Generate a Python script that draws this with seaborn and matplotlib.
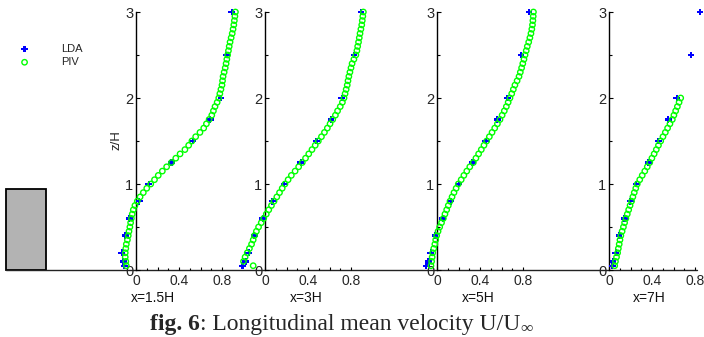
import numpy as np
import pandas as pd
import matplotlib
matplotlib.use("Agg")
import matplotlib.pyplot as plt
import matplotlib.transforms as mtransforms
from matplotlib.patches import Rectangle
import seaborn as sns

# ---------------- data ----------------
stations = [1.5, 3.0, 5.0, 7.0]
station_labels = ["x=1.5H", "x=3H", "x=5H", "x=7H"]

lda_z = [0.05, 0.1, 0.2, 0.4, 0.6, 0.8, 1.0, 1.25, 1.5, 1.75, 2.0, 2.5, 3.0]
lda_u_15 = [-0.11, -0.12, -0.133, -0.10, -0.062, 0.03, 0.12, 0.33, 0.53, 0.69, 0.79, 0.84, 0.89]
lda_u_3 = [-0.21, -0.18, -0.15, -0.10, -0.022, 0.071, 0.18, 0.332, 0.48, 0.614, 0.713, 0.828, 0.893]
lda_u_5 = [-0.10, -0.08, -0.059, -0.019, 0.053, 0.130, 0.205, 0.329, 0.453, 0.561, 0.654, 0.781, 0.856]
lda_u_7 = [0.031, 0.037, 0.062, 0.093, 0.145, 0.198, 0.254, 0.366, 0.459, 0.552, 0.63, 0.763, 0.846]

piv_z = [0.05, 0.10, 0.15, 0.20, 0.25, 0.30, 0.35, 0.40, 0.45, 0.50,
         0.55, 0.60, 0.65, 0.70, 0.75, 0.80, 0.85, 0.90, 0.95, 1.00,
         1.05, 1.10, 1.15, 1.20, 1.25, 1.30, 1.35, 1.40, 1.45, 1.50,
         1.55, 1.60, 1.65, 1.70, 1.75, 1.80, 1.85, 1.90, 1.95, 2.00,
         2.05, 2.10, 2.15, 2.20, 2.25, 2.30, 2.35, 2.40, 2.45, 2.50,
         2.55, 2.60, 2.65, 2.70, 2.75, 2.80, 2.85, 2.90, 2.95, 3.00]
piv_u_15 = [-0.09, -0.095, -0.10, -0.10, -0.095, -0.09, -0.08, -0.072, -0.065, -0.057,
            -0.05, -0.043, -0.035, -0.025, -0.01, 0.012, 0.038, 0.068, 0.10, 0.137,
            0.172, 0.207, 0.245, 0.285, 0.33, 0.37, 0.41, 0.455, 0.49, 0.52,
            0.555, 0.595, 0.63, 0.655, 0.68, 0.705, 0.72, 0.735, 0.755, 0.77,
            0.78, 0.79, 0.80, 0.805, 0.81, 0.82, 0.83, 0.838, 0.845, 0.852,
            0.86, 0.867, 0.875, 0.885, 0.895, 0.903, 0.91, 0.915, 0.92, 0.925]
piv_u_3 = [-0.11, -0.20, -0.185, -0.165, -0.145, -0.125, -0.11, -0.098, -0.08, -0.06,
           -0.035, -0.012, 0.012, 0.035, 0.06, 0.084, 0.11, 0.135, 0.16, 0.186,
           0.215, 0.245, 0.28, 0.313, 0.347, 0.377, 0.407, 0.437, 0.467, 0.496,
           0.525, 0.553, 0.58, 0.605, 0.63, 0.655, 0.675, 0.70, 0.72, 0.735,
           0.745, 0.755, 0.765, 0.772, 0.78, 0.79, 0.80, 0.81, 0.827, 0.845,
           0.855, 0.862, 0.87, 0.877, 0.884, 0.892, 0.90, 0.905, 0.91, 0.915]
piv_u_5 = [-0.056, -0.05, -0.045, -0.04, -0.03, -0.02, -0.012, -0.003, 0.01, 0.025,
           0.042, 0.059, 0.074, 0.09, 0.105, 0.121, 0.14, 0.158, 0.178, 0.198,
           0.225, 0.25, 0.277, 0.305, 0.338, 0.362, 0.387, 0.412, 0.437, 0.462,
           0.487, 0.512, 0.537, 0.562, 0.586, 0.606, 0.626, 0.645, 0.662, 0.679,
           0.695, 0.71, 0.725, 0.745, 0.763, 0.775, 0.787, 0.798, 0.809, 0.819,
           0.83, 0.84, 0.853, 0.864, 0.874, 0.882, 0.888, 0.892, 0.895, 0.897]
piv_z_7 = piv_z[:40]
piv_u_7 = [0.053, 0.06, 0.07, 0.08, 0.087, 0.095, 0.102, 0.11, 0.122, 0.134,
           0.145, 0.157, 0.17, 0.183, 0.196, 0.21, 0.222, 0.235, 0.249, 0.263,
           0.286, 0.309, 0.333, 0.356, 0.379, 0.399, 0.42, 0.44, 0.46, 0.481,
           0.502, 0.524, 0.545, 0.567, 0.589, 0.604, 0.62, 0.636, 0.652, 0.667]

x_ticks = [0.0, 0.2, 0.4, 0.6, 0.8]
x_tick_labels = ["0", "", "0.4", "", "0.8"]
x_minor_ticks = [0.1, 0.3, 0.5, 0.7]
z_ticks = [0, 1, 2, 3]
z_tick_labels = ["0", "1", "2", "3"]
z_minor_ticks = [0.5, 1.5, 2.5]

lda_sets = [lda_u_15, lda_u_3, lda_u_5, lda_u_7]
piv_sets = [(piv_z, piv_u_15), (piv_z, piv_u_3), (piv_z, piv_u_5), (piv_z_7, piv_u_7)]

# ---------------- layout ----------------
sns.set_theme(style="white")
plt.rcParams["font.family"] = ["Liberation Sans", "DejaVu Sans"]

W, H = 704, 337
PX_PER_H = 86.0      # pixels per H (vertical and horizontal)
PX_PER_U = 107.5     # pixels per unit U/Uinf within a profile
X15_PX = 136.0       # pixel column of x = 1.5H
Z0_PY = 270.0        # pixel row (from top) of z = 0

BLOCK_X0, BLOCK_X1, BLOCK_TOP = -0.012, 0.453, 0.94
GROUND_END = 8.02

fig = plt.figure(figsize=(W / 100, H / 100), dpi=100)

def hpx(xh):
    return X15_PX + (xh - 1.5) * PX_PER_H

# background axes in H units
bg = fig.add_axes([0, 0, 1, 1])
bg.set_xlim((0 - X15_PX) / PX_PER_H + 1.5, (W - X15_PX) / PX_PER_H + 1.5)
bg.set_ylim(-(H - Z0_PY) / PX_PER_H, Z0_PY / PX_PER_H)
bg.axis("off")
bg.add_patch(Rectangle((BLOCK_X0, 0), BLOCK_X1 - BLOCK_X0, BLOCK_TOP,
                       facecolor="#b3b3b3", edgecolor="black", linewidth=1.3, zorder=2))
bg.plot([BLOCK_X0, GROUND_END], [0, 0], color="#222222", lw=1.0, zorder=3)

U_LO, U_HI = -0.3, 0.95
label_offsets = [-0.047, 0.233, 0.233, 0.223]

for i, st in enumerate(stations):
    left = (hpx(st) + U_LO * PX_PER_U) / W
    width = (U_HI - U_LO) * PX_PER_U / W
    bottom = (H - Z0_PY) / H
    height = 3 * PX_PER_H / H
    ax = fig.add_axes([left, bottom, width, height])
    ax.patch.set_alpha(0)
    df_l = pd.DataFrame({"U": lda_sets[i], "z": lda_z})
    pz, pu = piv_sets[i]
    df_p = pd.DataFrame({"U": pu, "z": pz})
    sns.scatterplot(data=df_l, x="U", y="z", ax=ax, marker="P", s=24,
                    color="#0000ff", edgecolor="none", linewidth=0,
                    clip_on=False, zorder=3, label="LDA" if i == 0 else None, legend=False)
    sns.scatterplot(data=df_p, x="U", y="z", ax=ax, marker="o", s=15,
                    facecolor="none", edgecolor="#00ff00", linewidth=1.0,
                    clip_on=False, zorder=4, label="PIV" if i == 0 else None, legend=False)
    ax.set_xlim(U_LO, U_HI)
    ax.set_ylim(0, 3)
    for s in ["top", "right", "bottom"]:
        ax.spines[s].set_visible(False)
    ax.spines["left"].set_position(("data", 0))
    ax.spines["left"].set_color("black")
    ax.spines["left"].set_linewidth(1.0)
    ax.set_xticks(x_ticks, x_tick_labels)
    ax.set_xticks(x_minor_ticks, minor=True)
    ax.set_yticks(z_ticks, z_tick_labels)
    ax.set_yticks(z_minor_ticks, minor=True)
    ax.tick_params(axis="x", which="major", direction="in", length=2.5, width=0.8,
                   color="black", labelsize=10, pad=3, bottom=True)
    ax.tick_params(axis="x", which="minor", direction="in", length=1.2, width=0.8,
                   color="black", bottom=True)
    ax.tick_params(axis="y", which="major", direction="in", length=3, width=0.8,
                   color="black", labelsize=10.5, pad=2, left=True)
    ax.tick_params(axis="y", which="minor", direction="in", length=2.2, width=0.8,
                   color="black", left=True)
    ax.set_xlabel("")
    ax.set_ylabel("")
    trans = mtransforms.blended_transform_factory(ax.transData, ax.transAxes)
    ax.text(label_offsets[i], -(298 - Z0_PY) / (3 * PX_PER_H), station_labels[i],
            transform=trans, ha="left", va="center", fontsize=10, color="#111111")
    if i == 0:
        ax.legend(loc="center left", bbox_to_anchor=(19 / W, 1 - 55.5 / H),
                  bbox_transform=fig.transFigure, frameon=False, fontsize=8,
                  handlelength=1.0, handletextpad=2.8, labelspacing=0.3,
                  borderpad=0, borderaxespad=0, markerscale=1.0)

fig.text(117 / W, 1 - 140 / H, "z/H", rotation=90, ha="center", va="center", fontsize=9.5)

# caption
yb = 1 - 330 / H
t1 = fig.text(150 / W, yb, "fig. 6", family="Liberation Serif", weight="bold",
              fontsize=17, va="baseline")
fig.canvas.draw()
r = fig.canvas.get_renderer()
bb1 = t1.get_window_extent(r)
t2 = fig.text(bb1.x1 / W, yb, ": Longitudinal mean velocity U/U", family="Liberation Serif",
              fontsize=17, va="baseline")
bb2 = t2.get_window_extent(r)
fig.text(bb2.x1 / W, yb - 3 / H, "\u221e", family="Liberation Serif", fontsize=12.5,
         va="baseline", color="#333333")

fig.savefig("out.png", dpi=100)
